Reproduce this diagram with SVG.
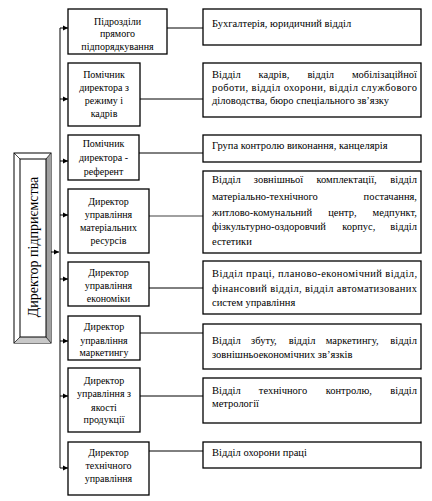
<svg xmlns="http://www.w3.org/2000/svg" width="432" height="501" viewBox="0 0 432 501">
<defs>
<style>
.box{fill:#fff;stroke:#000;stroke-width:1.3}
.lt{font-family:"Liberation Serif","Times New Roman",serif;font-size:10px;text-anchor:middle;fill:#000}
.rt{font-family:"Liberation Serif","Times New Roman",serif;font-size:10.5px;fill:#000}
.ln{stroke:#000;stroke-width:1;fill:none}
</style>
<marker id="ah" markerWidth="6" markerHeight="6" refX="5" refY="3" orient="auto" markerUnits="userSpaceOnUse">
<path d="M0,0.5 L5,3 L0,5.5 Z" fill="#000"/>
</marker>
</defs>
<rect width="432" height="501" fill="#fff"/>

<g id="director">
<rect x="14" y="153" width="37" height="190" fill="#fff" stroke="#000" stroke-width="1"/>
<polygon points="46,159 51,153 51,343 46,337" fill="#a0a0a0"/>
<polygon points="20,337 46,337 51,343 14,343" fill="#c8c8c8"/>
<line x1="14" y1="153" x2="20" y2="159" stroke="#000" stroke-width="0.7"/>
<line x1="51" y1="153" x2="46" y2="159" stroke="#000" stroke-width="0.7"/>
<line x1="14" y1="343" x2="20" y2="337" stroke="#000" stroke-width="0.7"/>
<line x1="51" y1="343" x2="46" y2="337" stroke="#000" stroke-width="0.7"/>
<rect x="20" y="159" width="26" height="178" fill="#fff" stroke="#000" stroke-width="1"/>
<text transform="translate(38,247) rotate(-90)" font-family="Liberation Serif, Times New Roman, serif" font-size="14" text-anchor="middle">Директор підприємства</text>
</g>

<g id="connectors">
<line x1="60" y1="28" x2="60" y2="468" stroke="#808080" stroke-width="2"/>
<line class="ln" x1="51" y1="252" x2="59" y2="252" marker-end="url(#ah)"/>
<line class="ln" x1="60" y1="28" x2="68" y2="28" marker-end="url(#ah)"/>
<line class="ln" x1="60" y1="99" x2="68" y2="99" marker-end="url(#ah)"/>
<line class="ln" x1="60" y1="161" x2="68" y2="161" marker-end="url(#ah)"/>
<line class="ln" x1="60" y1="215" x2="68" y2="215" marker-end="url(#ah)"/>
<line class="ln" x1="60" y1="279" x2="68" y2="279" marker-end="url(#ah)"/>
<line class="ln" x1="60" y1="341" x2="68" y2="341" marker-end="url(#ah)"/>
<line class="ln" x1="60" y1="396" x2="68" y2="396" marker-end="url(#ah)"/>
<line class="ln" x1="60" y1="468" x2="68" y2="468" marker-end="url(#ah)"/>
<line class="ln" x1="167" y1="28" x2="203" y2="28"/>
<line class="ln" x1="140" y1="99" x2="203" y2="99"/>
<line class="ln" x1="139" y1="153" x2="203" y2="153"/>
<line x1="149" y1="216" x2="203" y2="216" stroke="#808080" stroke-width="1.5"/>
<line class="ln" x1="149" y1="288" x2="203" y2="288"/>
<line class="ln" x1="140" y1="333" x2="203" y2="333"/>
<line class="ln" x1="140" y1="396" x2="203" y2="396"/>
<line class="ln" x1="149" y1="451" x2="203" y2="451"/>
</g>

<g id="n1">
<rect class="box" x="68" y="9" width="99" height="45"/>
<text class="lt"><tspan x="117.5" y="24.5">Підрозділи</tspan><tspan x="117.5" y="37">прямого</tspan><tspan x="117.5" y="49.5">підпорядкування</tspan></text>
</g>
<g id="n2">
<rect class="box" x="68" y="63" width="72" height="63"/>
<text class="lt"><tspan x="104" y="77.5">Помічник</tspan><tspan x="104" y="90.5">директора з</tspan><tspan x="104" y="103.5">режиму і</tspan><tspan x="104" y="116.5">кадрів</tspan></text>
</g>
<g id="n3">
<rect class="box" x="68" y="135" width="71" height="45"/>
<text class="lt"><tspan x="103.5" y="146.5">Помічник</tspan><tspan x="103.5" y="161">директора -</tspan><tspan x="103.5" y="175">референт</tspan></text>
</g>
<g id="n4">
<rect class="box" x="68" y="189" width="81" height="64"/>
<text class="lt"><tspan x="108.5" y="204.5">Директор</tspan><tspan x="108.5" y="217.5">управління</tspan><tspan x="108.5" y="230.5">матеріальних</tspan><tspan x="108.5" y="243.5">ресурсів</tspan></text>
</g>
<g id="n5">
<rect class="box" x="68" y="262" width="81" height="44"/>
<text class="lt"><tspan x="108.5" y="275.5">Директор</tspan><tspan x="108.5" y="288.5">управління</tspan><tspan x="108.5" y="301.5">економіки</tspan></text>
</g>
<g id="n6">
<rect class="box" x="68" y="316" width="72" height="44"/>
<text class="lt"><tspan x="104" y="329.5">Директор</tspan><tspan x="104" y="343.5">управління</tspan><tspan x="104" y="355.5">маркетингу</tspan></text>
</g>
<g id="n7">
<rect class="box" x="68" y="368" width="72" height="64"/>
<text class="lt"><tspan x="104" y="383.5">Директор</tspan><tspan x="104" y="396.5">управління з</tspan><tspan x="104" y="410.5">якості</tspan><tspan x="104" y="422.5">продукції</tspan></text>
</g>
<g id="n8">
<rect class="box" x="68" y="442" width="81" height="53"/>
<text class="lt"><tspan x="108.5" y="455.5">Директор</tspan><tspan x="108.5" y="468.5">технічного</tspan><tspan x="108.5" y="481.5">управління</tspan></text>
</g>

<g id="r1">
<rect class="box" x="203" y="9" width="218" height="36"/>
<text class="rt" x="212" y="26.5">Бухгалтерія, юридичний відділ</text>
</g>
<g id="r2">
<rect class="box" x="203" y="63" width="218" height="54"/>
<text class="rt"><tspan x="212" y="77.5">Відділ</tspan><tspan x="258.6" y="77.5">кадрів,</tspan><tspan x="307.4" y="77.5">відділ</tspan><tspan x="417" y="77.5" text-anchor="end">мобілізаційної</tspan></text>
<text class="rt" x="212" y="90.5" textLength="205" lengthAdjust="spacing">роботи, відділ охорони, відділ службового</text>
<text class="rt" x="212" y="103.5">діловодства, бюро спеціального зв’язку</text>
</g>
<g id="r3">
<rect class="box" x="203" y="135" width="218" height="27"/>
<text class="rt" x="212" y="148.5">Група контролю виконання, канцелярія</text>
</g>
<g id="r4">
<rect class="box" x="203" y="171" width="218" height="82"/>
<text class="rt"><tspan x="212" y="182.5">Відділ</tspan><tspan x="253.8" y="182.5">зовнішньої</tspan><tspan x="316.5" y="182.5">комплектації,</tspan><tspan x="417" y="182.5" text-anchor="end">відділ</tspan></text>
<text class="rt"><tspan x="212" y="199.5">матеріально-технічного</tspan><tspan x="417" y="199.5" text-anchor="end">постачання,</tspan></text>
<text class="rt"><tspan x="212" y="215.5">житлово-комунальний</tspan><tspan x="328.2" y="215.5">центр,</tspan><tspan x="417" y="215.5" text-anchor="end">медпункт,</tspan></text>
<text class="rt"><tspan x="212" y="229.5">фізкультурно-оздоровчий</tspan><tspan x="342.2" y="229.5">корпус,</tspan><tspan x="417" y="229.5" text-anchor="end">відділ</tspan></text>
<text class="rt" x="212" y="244.5">естетики</text>
</g>
<g id="r5">
<rect class="box" x="203" y="261" width="218" height="53"/>
<text class="rt" x="212" y="276.5" textLength="205" lengthAdjust="spacing">Відділ праці, планово-економічний відділ,</text>
<text class="rt" x="212" y="291.5" textLength="205" lengthAdjust="spacing">фінансовий відділ, відділ автоматизованих</text>
<text class="rt" x="212" y="305.5">систем управління</text>
</g>
<g id="r6">
<rect class="box" x="203" y="324" width="218" height="45"/>
<text class="rt"><tspan x="212" y="343.5">Відділ</tspan><tspan x="251.1" y="343.5">збуту,</tspan><tspan x="288.7" y="343.5">відділ</tspan><tspan x="325.7" y="343.5">маркетингу,</tspan><tspan x="417" y="343.5" text-anchor="end">відділ</tspan></text>
<text class="rt" x="212" y="357.5">зовнішньоекономічних зв’язків</text>
</g>
<g id="r7">
<rect class="box" x="203" y="378" width="218" height="45"/>
<text class="rt"><tspan x="212" y="393.5">Відділ</tspan><tspan x="258.8" y="393.5">технічного</tspan><tspan x="325.7" y="393.5">контролю,</tspan><tspan x="417" y="393.5" text-anchor="end">відділ</tspan></text>
<text class="rt" x="212" y="406.5">метрології</text>
</g>
<g id="r8">
<rect class="box" x="203" y="442" width="218" height="26"/>
<text class="rt" x="212" y="455.5">Відділ охорони праці</text>
</g>
</svg>
